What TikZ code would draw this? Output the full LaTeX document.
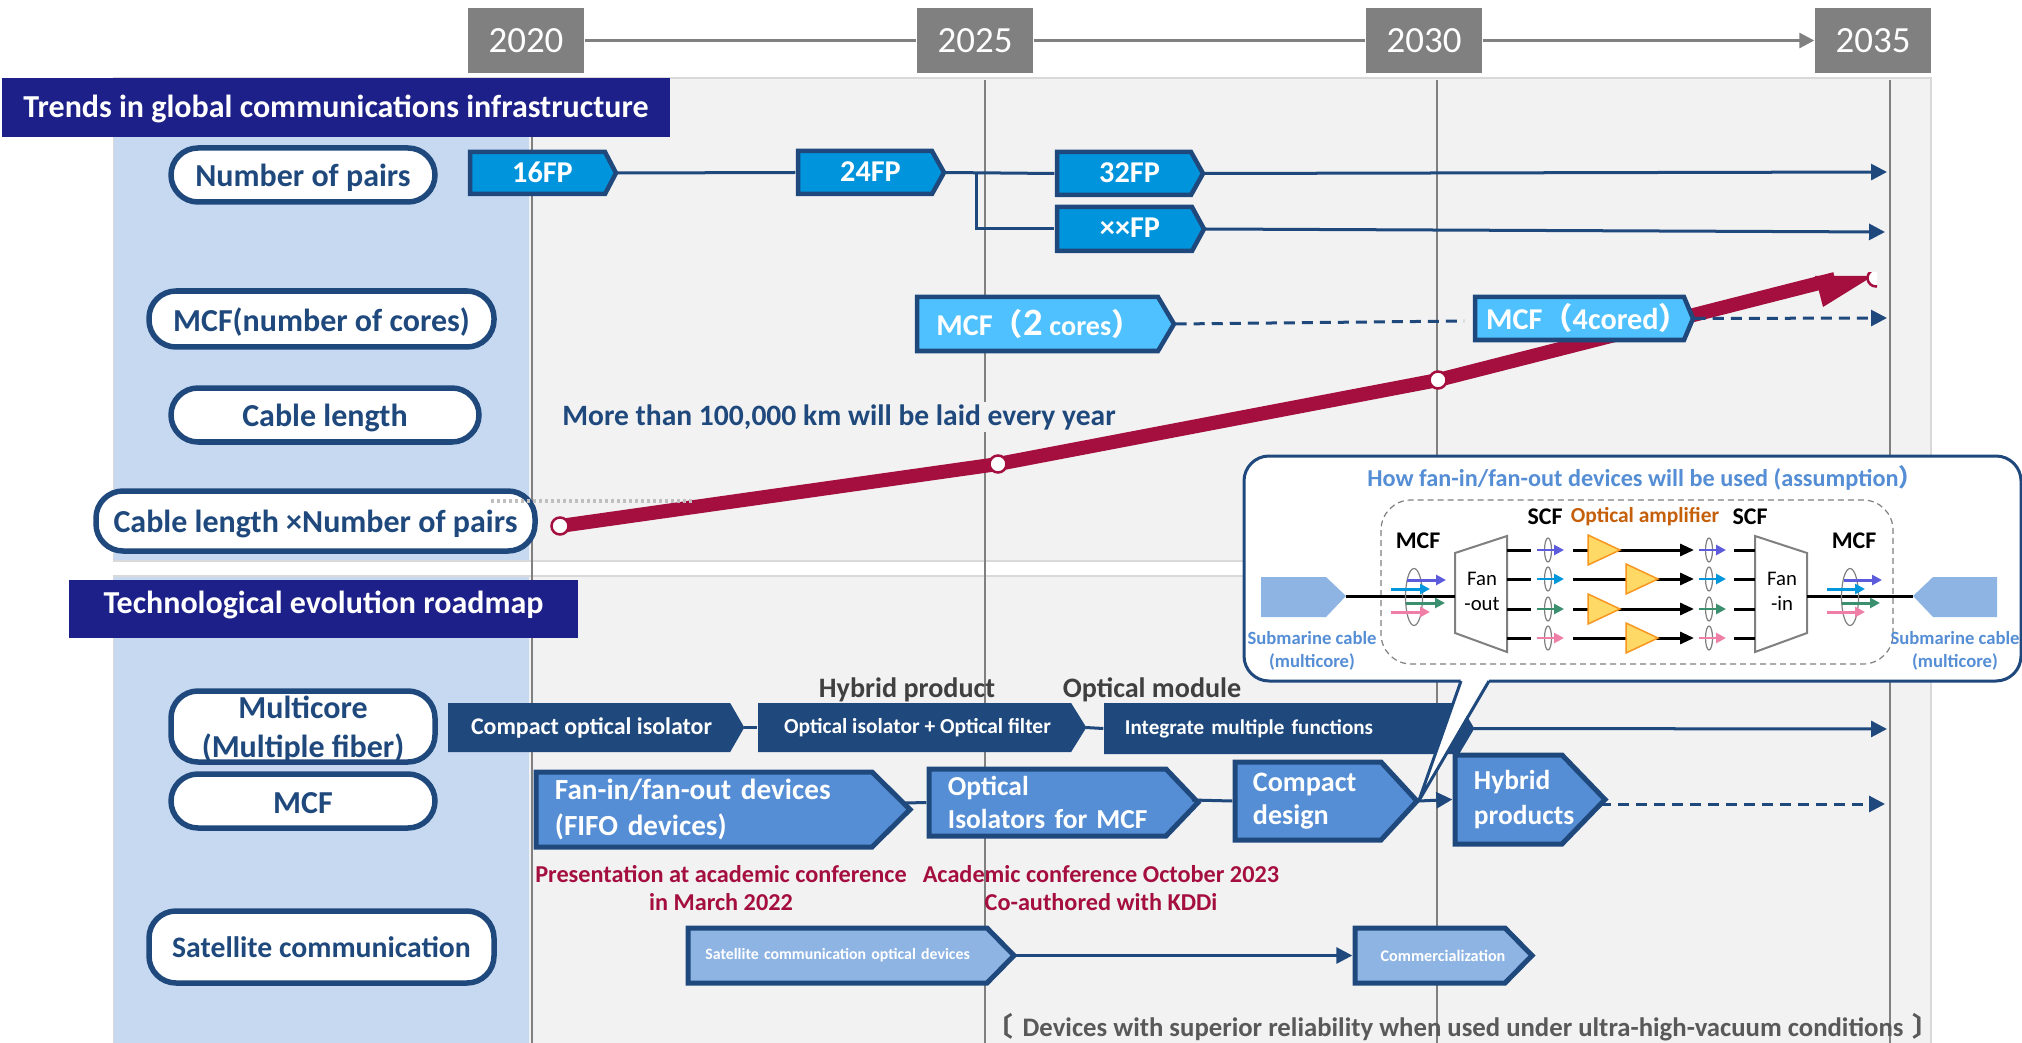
\documentclass[tikz,border=0pt]{standalone}
\usepackage{fontspec}
\setmainfont{Carlito}
\newfontfamily\cjk{Noto Sans CJK JP}
\usetikzlibrary{fit}
\usetikzlibrary{arrows.meta}
\usetikzlibrary{shapes.geometric}
\definecolor{headnavy}{HTML}{1D2088}
\definecolor{columnblue}{HTML}{C6D9F1}
\definecolor{panelgray}{HTML}{F2F2F2}
\definecolor{panelline}{HTML}{D9D9D9}
\definecolor{yeargray}{HTML}{808080}
\definecolor{linkblue}{HTML}{1F497D}
\definecolor{fpblue}{HTML}{0094DC}
\definecolor{mcfblue}{HTML}{4FC1FF}
\definecolor{midblue}{HTML}{558ED5}
\definecolor{lightblue}{HTML}{8EB4E3}
\definecolor{trendred}{HTML}{A50F3F}
\definecolor{ampfill}{HTML}{FFD966}
\definecolor{ampline}{HTML}{F79621}
\definecolor{amptext}{HTML}{C55F0A}
\definecolor{chpurple}{HTML}{5B5BDC}
\definecolor{chblue}{HTML}{0096DC}
\definecolor{chgreen}{HTML}{3A8F6E}
\definecolor{chpink}{HTML}{F07FA8}
\newcommand{\fs}[2]{\fontsize{#1}{#2}\selectfont}
\tikzstyle{year box}=[fill=yeargray, inner sep=0]
\tikzstyle{year text}=[text=white, font=\fs{10.5}{12}]
\tikzstyle{year link}=[draw=yeargray, line width=.03cm]
\tikzstyle{head box}=[fill=headnavy, inner sep=0]
\tikzstyle{head text}=[text=white, font=\bfseries\fs{9.1}{10}]
\tikzstyle{row pill}=[draw=linkblue, fill=white, line width=.055cm, rounded corners=.27cm, inner sep=-.02cm]
\tikzstyle{pill text}=[text=linkblue, align=center, yshift=-.03cm, font=\bfseries\fs{9.1}{11}]
\tikzstyle{link}=[draw=linkblue, line width=.03cm]
\tikzstyle{link arrow}=[link, -{Triangle[length=.16cm,width=.16cm]}]
\tikzstyle{dash link}=[link arrow, dash pattern=on .11cm off .07cm]
\tikzstyle{fp box}=[draw=linkblue, fill=fpblue, line width=.045cm]
\tikzstyle{core box}=[draw=linkblue, fill=mcfblue, line width=.045cm]
\tikzstyle{dark box}=[draw=linkblue, fill=linkblue, line width=.04cm]
\tikzstyle{mid box}=[draw=linkblue, fill=midblue, line width=.05cm]
\tikzstyle{light box}=[draw=linkblue, fill=lightblue, line width=.05cm]
\tikzstyle{box text}=[text=white, font=\bfseries\fs{8.6}{10}]
\tikzstyle{marker}=[circle, draw=trendred, fill=white, line width=.025cm, inner sep=0, minimum size=.17cm]
\tikzstyle{wire}=[draw=black, line width=.03cm]
\tikzstyle{wire arrow}=[wire, -{Triangle[length=.14cm,width=.12cm]}]
\tikzstyle{core ring}=[ellipse, draw=gray, line width=.012cm, inner sep=0]
\tikzstyle{amp}=[draw=ampline, fill=ampfill, line width=.015cm]
\tikzstyle{fan}=[draw=gray, fill=white, line width=.02cm]
\tikzstyle{small head}=[font=\bfseries\fs{6.8}{8}]
\tikzstyle{cable text}=[text=midblue, align=center, font=\bfseries\fs{5.3}{6.6}]
\newcommand{\pentabox}[9]{%
  \draw[#1] (#3+2,#6+2) -- (#4,#6+2) -- (#5-1,{(#6+#7)/2}) -- (#4,#7-2) -- (#3+2,#7-2) -- cycle;
  \node[fit={(#3,#6) (#5,#7)}, inner sep=0] (#2) {};
  \node[box text, inner sep=0, #8] (#2_text) at (#2) {#9};
}
\begin{document}
\begin{tikzpicture}[x=.01cm, y=-.01cm]
  \useasboundingbox (0,0) rectangle (2022,1043);

  % panels and year lines
  \draw[draw=panelline, fill=panelgray, line width=.02cm] (114,78) rectangle (1931,561);
  \draw[draw=panelline, fill=panelgray, line width=.02cm] (114,576) rectangle (1931,1044);
  \fill[columnblue] (114,79) rectangle (529,560);
  \fill[columnblue] (114,577) rectangle (529,1043);
  \draw[gray, line width=.012cm] (532,78) -- (532,1043);
  \draw[gray, line width=.012cm] (985,80) -- (985,1043);
  \draw[gray, line width=.012cm] (1437,80) -- (1437,1043);
  \draw[gray, line width=.012cm] (1890,80) -- (1890,1043);

  \node[year box, fit={(468,8) (584,73)}] (y_2020) {};
  \node[year box, fit={(917,8) (1033,73)}] (y_2025) {};
  \node[year box, fit={(1366,8) (1482,73)}] (y_2030) {};
  \node[year box, fit={(1815,8) (1931,73)}] (y_2035) {};
  \node[year text] (t_2020) at (y_2020) {2020};
  \node[year text] (t_2025) at (y_2025) {2025};
  \node[year text] (t_2030) at (y_2030) {2030};
  \node[year text] (t_2035) at (y_2035) {2035};
  \draw[year link] (y_2020) to (y_2025);
  \draw[year link] (y_2025) to (y_2030);
  \draw[year link, -{Triangle[length=.15cm,width=.15cm]}] (y_2030) to (y_2035);

  \node[head box, fit={(2,78) (670,137)}] (head_trends) {};
  \node[head box, fit={(69,580) (578,638)}] (head_tech) {};
  \node[head text, yshift=-.01cm] (text_trends) at (head_trends) {Trends in global communications infrastructure};
  \node[head text, yshift=.04cm] (text_tech) at (head_tech) {Technological evolution roadmap};

  \node[row pill, fit={(169,146) (437,204)}] (pill_pairs) {};
  \node[row pill, fit={(147,289) (496,349)}] (pill_cores) {};
  \node[row pill, fit={(169,386) (481,444)}] (pill_length) {};
  \node[row pill, fit={(94,489) (537,553)}] (pill_product) {};
  \node[row pill, fit={(169,689) (437,764)}] (pill_multi) {};
  \node[row pill, fit={(169,772) (437,830)}] (pill_mcf) {};
  \node[row pill, fit={(147,909) (496,985)}] (pill_sat) {};
  \node[pill text] (text_pairs) at (pill_pairs) {Number of pairs};
  \node[pill text] (text_cores) at (pill_cores) {MCF(number of cores)};
  \node[pill text] (text_length) at (pill_length) {Cable length};
  \node[pill text] (text_product) at (pill_product) {Cable length ×Number of pairs};
  \node[pill text] (text_multi) at (pill_multi) {Multicore\\(Multiple fiber)};
  \node[pill text, yshift=.01cm] (text_mcf) at (pill_mcf) {MCF};
  \node[pill text, yshift=.025cm, font=\bfseries\fs{8.45}{10}] (text_sat) at (pill_sat) {Satellite communication};

  \node[fill=panelgray, inner sep=.02cm, text=linkblue, font=\bfseries\fs{8.4}{10}] (length_note) at (839,417) {More than 100,000 km will be laid every year};

  % cable length trend
  \coordinate (p_20) at (560,526);
  \coordinate (p_25) at (998,464);
  \coordinate (p_30) at (1438,380);
  \coordinate (p_end) at (1835,279);
  \draw[draw=trendred, line width=.14cm] (p_20) -- (p_25) -- (p_30) -- (p_end);
  \fill[trendred] (1815,276) -- (1873,276) -- (1823,307) -- cycle;
  \node[marker] (dot_20) at (p_20) {};
  \node[marker] (dot_25) at (p_25) {};
  \node[marker] (dot_30) at (p_30) {};
  \begin{scope}
    \clip (1860,273) rectangle (1877,292);
    \node[marker] (dot_end) at (1876,278) {};
  \end{scope}
  \draw[draw=gray!50, line width=.04cm, dash pattern=on .03cm off .03cm] (491,501) to (692,501);

  % number of pairs
  \pentabox{fp box}{fp_16}{468}{605}{617}{150}{196}{yshift=.01cm}{16FP}
  \pentabox{fp box}{fp_24}{796}{932}{945}{149}{196}{yshift=.01cm}{24FP}
  \pentabox{fp box}{fp_32}{1055}{1191}{1204}{150}{197}{yshift=.01cm}{32FP}
  \pentabox{fp box}{fp_xx}{1055}{1192}{1205}{205}{253}{yshift=.01cm}{××FP}
  \coordinate (branch) at (976,173);
  \coordinate (end_32) at (1887,172);
  \coordinate (end_xx) at (1885,232);
  \coordinate (end_2) at (1464,321);
  \coordinate (end_4) at (1887,318);
  \draw[link] (fp_16.east) to (fp_24.west);
  \draw[link] (fp_24.east) to (fp_32.west);
  \draw[link] (branch) |- (fp_xx.west);
  \draw[link arrow] (fp_32.east) to (end_32);
  \draw[link arrow] (fp_xx.east) to (end_xx);

  % number of cores
  \pentabox{core box}{mcf_2}{915}{1158}{1175}{295}{353}{xshift=-.06cm}{MCF{\cjk（}{\fs{11}{12}2} {\fs{8}{10}cores}{\cjk）}}
  \pentabox{core box}{mcf_4}{1473}{1684}{1694}{295}{342}{xshift=.04cm}{MCF{\cjk（}4cored{\cjk）}}
  \draw[dash link, -] (mcf_2.east) to (end_2);
  \draw[dash link] (mcf_4.east) to (end_4);

  % multicore row
  \pentabox{dark box}{iso_compact}{448}{729}{743}{703}{752}{xshift=-.04cm, font=\bfseries\fs{6.8}{9}}{Compact optical isolator}
  \pentabox{dark box}{iso_filter}{758}{1070}{1085}{703}{752}{xshift=-.04cm, font=\bfseries\fs{6.1}{9}}{Optical isolator + Optical filter}
  \pentabox{dark box}{iso_module}{1104}{1458}{1473}{703}{754}{font=\bfseries\fs{6}{9}, text width=3.27cm, align=left}{Integrate multiple functions}
  \coordinate (end_module) at (1887,729);
  \draw[link] (iso_compact.east) to (iso_filter.west);
  \draw[link] (iso_filter.east) to (iso_module.west);
  \draw[link arrow] (iso_module.east) to (end_module);
  \node[text=black!75, font=\bfseries\fs{8}{9}] (note_hybrid) at (907,690) {Hybrid product};
  \node[text=black!75, font=\bfseries\fs{8}{9}] (note_module) at (1152,690) {Optical module};

  % mcf row
  \pentabox{mid box}{dev_fifo}{534}{872}{911}{770}{849}{font=\bfseries\fs{8.3}{10}, text width=3.35cm, align=left}{Fan-in/fan-out devices\\(FIFO devices)}
  \pentabox{mid box}{dev_iso}{927}{1166}{1199}{767}{838}{font=\bfseries\fs{7.8}{9.6}, text width=2.3cm, align=left}{Optical\\Isolators for MCF}
  \pentabox{mid box}{dev_compact}{1233}{1381}{1418}{760}{842}{font=\bfseries\fs{8}{9.4}, text width=1.45cm, align=left}{Compact\\design}
  \coordinate (fifo_out) at (905,803);
  \coordinate (iso_out) at (1192,800);
  \draw[link] (fifo_out) to (dev_iso.west);
  \draw[link] (iso_out) to (dev_compact.west);

  % callout
  \coordinate (tail_a) at (1461,681);
  \coordinate (tail_b) at (1489,681);
  \draw[draw=linkblue, fill=white, line width=.03cm, rounded corners=.25cm] (1244,456) rectangle (2021,681);
  \fill[white] (tail_a) ++(.5,-3) -- (dev_compact.east) -- ([shift={(-1,-3)}]tail_b) -- cycle;
  \fill[white] (1461,678) rectangle (1489,684);
  \draw[draw=linkblue, line width=.03cm] (tail_a) -- (dev_compact.east) -- (tail_b);
  \node[text=midblue, font=\bfseries\fs{6.9}{7}] (call_title) at (1645,478) {How fan-in/fan-out devices will be used (assumption{\cjk）}};
  \draw[draw=gray, line width=.012cm, dash pattern=on .06cm off .04cm, rounded corners=.3cm] (1381,500) rectangle (1893,664);

  \fill[lightblue] (1261,577) -- (1326,577) -- (1346,596) -- (1326,617) -- (1261,617) -- cycle;
  \fill[lightblue] (1997,577) -- (1933,577) -- (1913,596) -- (1933,617) -- (1997,617) -- cycle;
  \coordinate (cable_left) at (1346,596);
  \coordinate (cable_right) at (1913,596);
  \node[cable text] (text_left) at (1312,651) {Submarine cable\\(multicore)};
  \node[cable text] (text_right) at (1955,651) {Submarine cable\\(multicore)};

  \draw[fan] (1455,553) -- (1507,536) -- (1507,652) -- (1455,633) -- cycle;
  \draw[fan] (1755,536) -- (1807,553) -- (1807,633) -- (1755,652) -- cycle;
  \node[align=center, font=\fs{5.9}{7.1}] (fan_out) at (1482,591) {Fan\\-out};
  \node[align=center, font=\fs{5.9}{7.1}] (fan_in) at (1782,591) {Fan\\-in};
  \coordinate (fan_out_w) at (1455,596);
  \coordinate (fan_in_e) at (1807,596);
  \draw[wire] (cable_left) to (fan_out_w);
  \draw[wire] (fan_in_e) to (cable_right);

  \node[small head] (mcf_left) at (1418,541) {MCF};
  \node[small head] (mcf_right) at (1854,541) {MCF};
  \node[small head] (scf_left) at (1545,517) {SCF};
  \node[small head] (scf_right) at (1750,517) {SCF};
  \node[small head, text=amptext, font=\bfseries\fs{6.1}{8}] (amp_label) at (1645,517) {Optical amplifier};

  \node[core ring, minimum width=.17cm, minimum height=.57cm] (ring_left) at (1414,597) {};
  \node[core ring, minimum width=.17cm, minimum height=.57cm] (ring_right) at (1850,597) {};
  \foreach \ay/\ac/\ad/\ae in {580/chpurple/1407/1844, 589/chblue/1391/1827, 603/chgreen/1406/1842, 612/chpink/1391/1827} {
    \draw[draw=\ac, line width=.03cm, -{Triangle[length=.1cm,width=.1cm]}] (\ad,\ay) -- (\ad+39,\ay);
    \draw[draw=\ac, line width=.03cm, -{Triangle[length=.1cm,width=.1cm]}] (\ae,\ay) -- (\ae+38,\ay);
  }

  \foreach \i/\cy/\cc/\ax in {1/550/chpurple/1588, 2/579/chblue/1626, 3/609/chgreen/1588, 4/638/chpink/1626} {
    \node[core ring, minimum width=.07cm, minimum height=.24cm] (sl_\i) at (1548,\cy) {};
    \node[core ring, minimum width=.07cm, minimum height=.24cm] (sr_\i) at (1709,\cy) {};
    \coordinate (fo_\i) at (1507,\cy);
    \coordinate (fi_\i) at (1755,\cy);
    \draw[wire] (fo_\i) -- ([xshift=-.17cm]sl_\i.center);
    \draw[wire arrow] ([xshift=.25cm]sl_\i.center) -- ([xshift=-.15cm]sr_\i.center);
    \draw[wire] ([xshift=.25cm]sr_\i.center) -- (fi_\i);
    \draw[draw=\cc, line width=.025cm, -{Triangle[length=.1cm,width=.1cm]}] ([xshift=-.11cm]sl_\i.center) -- ([xshift=.16cm]sl_\i.center);
    \draw[draw=\cc, line width=.025cm, -{Triangle[length=.1cm,width=.1cm]}] ([xshift=-.1cm]sr_\i.center) -- ([xshift=.17cm]sr_\i.center);
    \draw[amp] (\ax,\cy-15) -- (\ax+32,\cy) -- (\ax,\cy+15) -- cycle;
  }

  % products after the callout
  \pentabox{mid box}{dev_hybrid}{1453}{1562}{1606}{753}{846}{font=\bfseries\fs{7.8}{10}, text width=1.11cm, align=left}{Hybrid\\products}
  \coordinate (hybrid_out) at (1600,804);
  \coordinate (end_hybrid) at (1885,804);
  \draw[link arrow] (dev_compact.east) to (dev_hybrid.west);
  \draw[dash link] (hybrid_out) to (end_hybrid);

  \node[text=trendred, align=center, font=\bfseries\fs{6.9}{8.2}] (note_march) at (721,888) {Presentation at academic conference\\in March 2022};
  \node[text=trendred, align=center, font=\bfseries\fs{6.9}{8.2}] (note_october) at (1101,888) {Academic conference October 2023\\Co-authored with KDDi};

  % satellite row
  \pentabox{light box}{sat_optical}{686}{987}{1015}{926}{985}{font=\bfseries\fs{4.5}{6}, text width=2.9cm, align=left}{Satellite communication optical devices}
  \pentabox{light box}{sat_comm}{1353}{1505}{1533}{926}{985}{font=\bfseries\fs{4.6}{6}}{Commercialization}
  \draw[link arrow] (sat_optical.east) to (sat_comm.west);

  \node[text=black!65, font=\bfseries\fs{7.6}{9}] (note_vacuum) at (1463,1027) {{\cjk〔}\hspace{.09cm}Devices with superior reliability when used under ultra-high-vacuum conditions\hspace{.09cm}{\cjk〕}};
\end{tikzpicture}
\end{document}
